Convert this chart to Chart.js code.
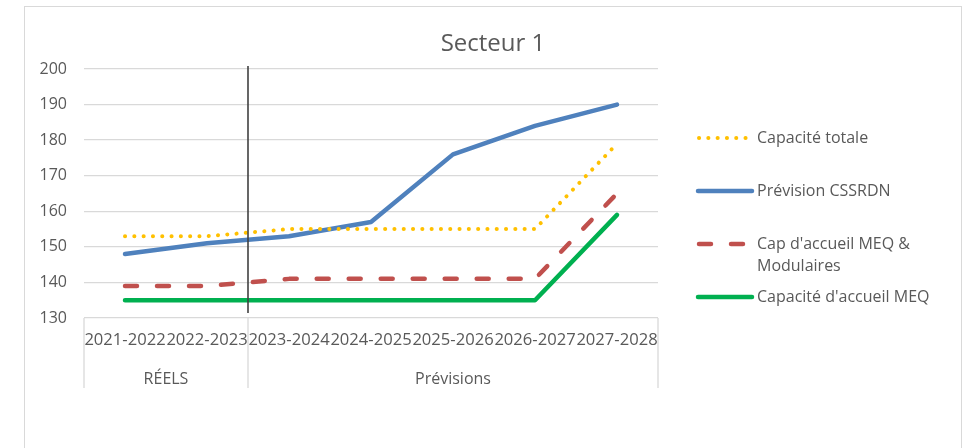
<!DOCTYPE html>
<html lang="fr">
<head>
<meta charset="utf-8">
<title>Secteur 1</title>
<script src="https://cdn.jsdelivr.net/npm/chart.js@4.4.1/dist/chart.umd.min.js"></script>
<style>
    html, body { margin: 0; padding: 0; background: #ffffff; }
    #wrap { position: relative; width: 968px; height: 448px; overflow: hidden; }
    #frame {
        position: absolute; left: 24px; top: 6px; width: 938px; height: 470px;
        border: 1.5px solid #D9D9D9; box-sizing: border-box;
    }
    #secteurChart { position: absolute; left: 0; top: 0; }
</style>
</head>
<body>
<div id="wrap">
    <div id="frame"></div>
    <canvas id="secteurChart" width="968" height="448"></canvas>
</div>
<script>
// Données du graphique
const titre = 'Secteur 1';
const categories = ['2021-2022', '2022-2023', '2023-2024', '2024-2025', '2025-2026', '2026-2027', '2027-2028'];
const groupes = ['RÉELS', 'Prévisions'];
const tailleGroupes = [2, 5];

const capaciteTotale = [153, 153, 155, 155, 155, 155, 179];
const previsionCSSRDN = [148, 151, 153, 157, 176, 184, 190];
const capModulaires = [139, 139, 141, 141, 141, 141, 165];
const capMEQ = [135, 135, 135, 135, 135, 135, 159];

const yMin = 130;
const yMax = 200;
const yPas = 10;

const police = "'Open Sans', 'Noto Sans', sans-serif";
const gris = '#595959';
const grille = '#D9D9D9';

// Titre, légende, séparateurs et étiquettes de groupes
const decorPlugin = {
    id: 'decor',
    afterDraw(chart) {
        const ctx = chart.ctx;
        const x = chart.scales.x;
        const area = chart.chartArea;
        const pas = x.getPixelForValue(1) - x.getPixelForValue(0);

        ctx.save();

        // titre
        ctx.fillStyle = gris;
        ctx.font = '24px ' + police;
        ctx.textAlign = 'center';
        ctx.textBaseline = 'alphabetic';
        ctx.fillText(titre, 493, 51);

        // séparateurs de groupes sous l'axe
        const bornes = [x.getPixelForValue(0) - pas / 2];
        let idx = 0;
        tailleGroupes.forEach(n => {
            idx += n;
            bornes.push(x.getPixelForValue(idx - 1) + pas / 2);
        });
        ctx.strokeStyle = grille;
        ctx.lineWidth = 1.3;
        bornes.forEach(b => {
            ctx.beginPath();
            ctx.moveTo(b, area.bottom);
            ctx.lineTo(b, area.bottom + 70);
            ctx.stroke();
        });

        ctx.fillStyle = gris;
        ctx.font = '16px ' + police;
        ctx.textBaseline = 'middle';
        groupes.forEach((g, i) => {
            ctx.fillText(g, (bornes[i] + bornes[i + 1]) / 2, area.bottom + 61);
        });

        // trait vertical réels / prévisions
        ctx.strokeStyle = '#404040';
        ctx.lineWidth = 1.6;
        ctx.beginPath();
        ctx.moveTo(bornes[1], area.top - 3);
        ctx.lineTo(bornes[1], area.bottom - 5);
        ctx.stroke();

        // légende
        const legendeY = [138, 191, 244, 297];
        chart.data.datasets.forEach((ds, i) => {
            const yy = legendeY[i];
            ctx.strokeStyle = ds.borderColor;
            ctx.lineWidth = ds.borderWidth;
            ctx.lineCap = ds.borderCapStyle || 'butt';
            ctx.setLineDash(ds.borderDash || []);
            ctx.beginPath();
            ctx.moveTo(ds.borderDash ? 699 : 698, yy);
            ctx.lineTo(752, yy);
            ctx.stroke();
            ctx.setLineDash([]);

            ctx.fillStyle = gris;
            ctx.font = '16px ' + police;
            ctx.textAlign = 'left';
            ctx.textBaseline = 'middle';
            const lignes = Array.isArray(ds.label) ? ds.label : [ds.label];
            lignes.forEach((l, k) => ctx.fillText(l, 757, yy + k * 22));
        });

        ctx.restore();
    }
};

const ctx = document.getElementById('secteurChart');

new Chart(ctx, {
    type: 'line',
    data: {
        labels: categories,
        datasets: [
            {
                label: 'Capacité totale',
                data: capaciteTotale,
                borderColor: '#FFC000',
                borderWidth: 4,
                borderDash: [0.1, 9.2],
                borderCapStyle: 'round',
                order: 1
            },
            {
                label: 'Prévision CSSRDN',
                data: previsionCSSRDN,
                borderColor: '#4F81BD',
                borderWidth: 4.5,
                borderCapStyle: 'round',
                order: 2
            },
            {
                label: ["Cap d'accueil MEQ &", 'Modulaires'],
                data: capModulaires,
                borderColor: '#C0504D',
                borderWidth: 4.5,
                borderDash: [12, 20],
                borderCapStyle: 'round',
                order: 3
            },
            {
                label: "Capacité d'accueil MEQ",
                data: capMEQ,
                borderColor: '#00B050',
                borderWidth: 4.5,
                borderCapStyle: 'round',
                order: 4
            }
        ]
    },
    options: {
        responsive: false,
        animation: false,
        layout: {
            padding: { left: 0, right: 310, top: 69, bottom: 0 }
        },
        elements: {
            point: { radius: 0, hoverRadius: 0 },
            line: { tension: 0, borderJoinStyle: 'round', fill: false }
        },
        plugins: {
            legend: { display: false },
            title: { display: false },
            tooltip: { enabled: false }
        },
        scales: {
            x: {
                offset: true,
                grid: { display: false, drawTicks: false },
                border: { display: false },
                ticks: {
                    color: gris,
                    font: { family: police, size: 16.6 },
                    padding: 12,
                    autoSkip: false,
                    maxRotation: 0,
                    minRotation: 0
                },
                afterFit: s => { s.height = 130; }
            },
            y: {
                min: yMin,
                max: yMax,
                grid: { color: grille, lineWidth: 1.3, drawTicks: false },
                border: { display: false },
                ticks: {
                    stepSize: yPas,
                    color: gris,
                    font: { family: police, size: 16 },
                    padding: 17
                },
                afterFit: s => { s.width = 84; }
            }
        }
    },
    plugins: [decorPlugin]
});
</script>
</body>
</html>
